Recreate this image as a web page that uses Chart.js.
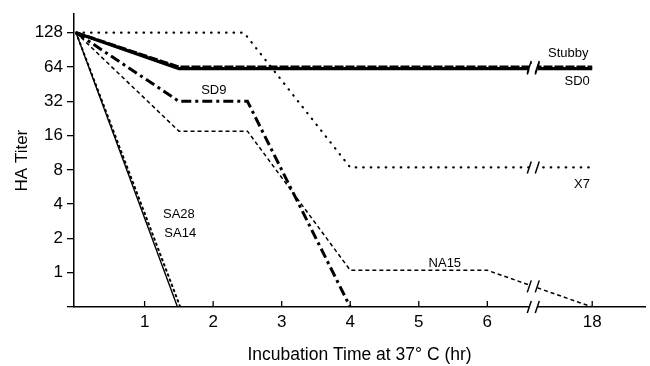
<!DOCTYPE html>
<html><head><meta charset="utf-8">
<script src="https://cdn.jsdelivr.net/npm/chart.js@4.4.1/dist/chart.umd.min.js"></script>
<style>html,body{margin:0;padding:0;background:#fff}#wrap{width:650px;height:366px}</style>
</head><body><div id="wrap"><canvas id="c" width="650" height="366"></canvas></div>
<script>
// ---- data ----
const xTickHours = [1, 2, 3, 4, 5, 6, 18];
const yTickTiters = [1, 2, 4, 8, 16, 32, 64, 128];

const stubbyHours = [0, 1.5, 18];          const stubbyTiter = [128, 64, 64];
const sd0Hours    = [0, 1.5, 18];          const sd0Titer    = [128, 62, 62];
const sd9Hours    = [0, 1.5, 2.5, 4];      const sd9Titer    = [128, 32, 32, 0.5];
const na15Hours   = [0, 1.5, 2.5, 4, 6, 18]; const na15Titer = [128, 17.5, 17.5, 1.05, 1.05, 0.5];
const x7Hours     = [0, 2.45, 4, 18];      const x7Titer     = [128, 128, 8.4, 8.4];
const sa28Hours   = [0, 1.48];             const sa28Titer   = [128, 0.5];
const sa14Hours   = [0, 1.52];             const sa14Titer   = [128, 0.5];

// broken axis: hours after the break are placed at a compressed position
const LATE_POS = 7.53, BREAK_POS = 6.67;
function hourPos(h) { return h > 6.5 ? LATE_POS : h; }
function pts(hs, vs) { return hs.map((h, i) => ({ x: hourPos(h), y: Math.log2(vs[i]) })); }

const FONT = "'Liberation Sans', Arial, Helvetica, sans-serif";
const NFONT = "'Liberation Sans Narrow', 'Arial Narrow', 'Liberation Sans', sans-serif";

const datasets = [
  { label: 'SA28', data: pts(sa28Hours, sa28Titer), borderWidth: 1.4, borderColor: '#000' },
  { label: 'SA14', data: pts(sa14Hours, sa14Titer), borderWidth: 2, borderColor: '#000', borderDash: [1.5, 4], borderCapStyle: 'round' },
  { label: 'NA15', data: pts(na15Hours, na15Titer), borderWidth: 1.5, borderColor: '#000', borderDash: [4, 3] },
  { label: 'X7', data: pts(x7Hours, x7Titer), borderWidth: 2.2, borderColor: '#000', borderDash: [0.5, 7], borderCapStyle: 'round' },
  { label: 'SD9', data: pts(sd9Hours, sd9Titer), borderWidth: 3, borderColor: '#000', borderDash: [10, 4, 3, 4] },
  { label: 'SD0', data: pts(sd0Hours, sd0Titer), borderWidth: 3.2, borderColor: '#000' },
  { label: 'Stubby', data: pts(stubbyHours, stubbyTiter), borderWidth: 3, borderColor: '#000', borderDash: [9, 2] },
];
datasets.forEach(d => { d.pointRadius = 0; d.fill = false; d.tension = 0; });

// series labels (data coordinates: axis position, log2 titer)
const seriesLabels = [
  { text: 'Stubby', x: 7.18, y: 6.40 },
  { text: 'SD0', x: 7.31, y: 5.57 },
  { text: 'X7', x: 7.38, y: 2.57 },
  { text: 'NA15', x: 5.38, y: 0.28 },
  { text: 'SD9', x: 2.01, y: 5.31 },
  { text: 'SA28', x: 1.50, y: 1.71 },
  { text: 'SA14', x: 1.52, y: 1.14 },
];
const breakSeries = ['Stubby', 'SD0', 'X7', 'NA15'];

function interpY(data, xv) {
  for (let i = 0; i < data.length - 1; i++) {
    const a = data[i], b = data[i + 1];
    if (xv >= a.x && xv <= b.x) return a.y + (b.y - a.y) * (xv - a.x) / (b.x - a.x);
  }
  return null;
}

const decor = {
  id: 'decor',
  afterDatasetsDraw(chart) {
    const { ctx, scales: { x, y } } = chart;
    ctx.save();
    ctx.fillStyle = '#000';
    ctx.font = '13px ' + FONT;
    ctx.textAlign = 'center'; ctx.textBaseline = 'middle';
    seriesLabels.forEach(l => ctx.fillText(l.text, x.getPixelForValue(l.x), y.getPixelForValue(l.y)));
    ctx.restore();
  },
  afterDraw(chart) {
    const { ctx, scales: { x, y }, chartArea: a } = chart;
    ctx.save();
    ctx.strokeStyle = '#000'; ctx.lineWidth = 1.3;
    xTickHours.forEach(h => {
      const px = x.getPixelForValue(hourPos(h));
      ctx.beginPath(); ctx.moveTo(px, a.bottom); ctx.lineTo(px, a.bottom - 6); ctx.stroke();
    });
    const bx = x.getPixelForValue(BREAK_POS);
    const ys = [a.bottom];
    chart.data.datasets.forEach(d => {
      if (breakSeries.includes(d.label)) {
        const v = interpY(d.data, BREAK_POS);
        if (v !== null) ys.push(y.getPixelForValue(v));
      }
    });
    ys.forEach(py => {
      ctx.fillStyle = '#fff';
      ctx.fillRect(bx - 4, py - 3, 8, 6);
      ctx.strokeStyle = '#000'; ctx.lineWidth = 1.5;
      [-4, 4].forEach(o => {
        ctx.beginPath(); ctx.moveTo(bx + o - 2, py + 6); ctx.lineTo(bx + o + 2, py - 6); ctx.stroke();
      });
    });
    ctx.restore();
  }
};

new Chart(document.getElementById('c'), {
  type: 'line',
  data: { datasets },
  options: {
    responsive: false, animation: false,
    layout: { padding: { top: 8, right: 5, left: 0, bottom: 0 } },
    plugins: { legend: { display: false }, tooltip: { enabled: false } },
    scales: {
      x: {
        type: 'linear', min: -0.03, max: 8.3,
        afterBuildTicks: s => { s.ticks = xTickHours.map(h => ({ value: hourPos(h) })); },
        afterFit: s => { s.height = 59; },
        ticks: { color: '#000', font: { size: 17, family: NFONT }, padding: 5, maxRotation: 0, autoSkip: false,
          callback: v => { const i = xTickHours.findIndex(h => hourPos(h) === v); return i >= 0 ? String(xTickHours[i]) : ''; } },
        grid: { display: false, drawTicks: false },
        border: { color: '#000', width: 1.5 },
        title: { display: true, text: 'Incubation Time at 37° C (hr)', color: '#000', font: { size: 17.5, family: FONT }, padding: { top: 0, bottom: 0 } }
      },
      y: {
        type: 'linear', min: -1, max: 7.54,
        afterBuildTicks: s => { s.ticks = [-1].concat(yTickTiters.map(t => Math.log2(t))).map(v => ({ value: v })); },
        afterFit: s => { s.width = 74; },
        ticks: { color: '#000', font: { size: 17, family: NFONT }, padding: 4,
          callback: v => v < 0 ? '' : String(Math.round(Math.pow(2, v))) },
        grid: { display: true, drawOnChartArea: false, drawTicks: true, tickLength: 7, color: '#000', lineWidth: 1.3 },
        border: { color: '#000', width: 1.5 },
        title: { display: true, text: 'HA Titer', color: '#000', font: { size: 17, family: FONT }, padding: { top: 12, bottom: 0 } }
      }
    }
  },
  plugins: [decor]
});
</script>
</body></html>
